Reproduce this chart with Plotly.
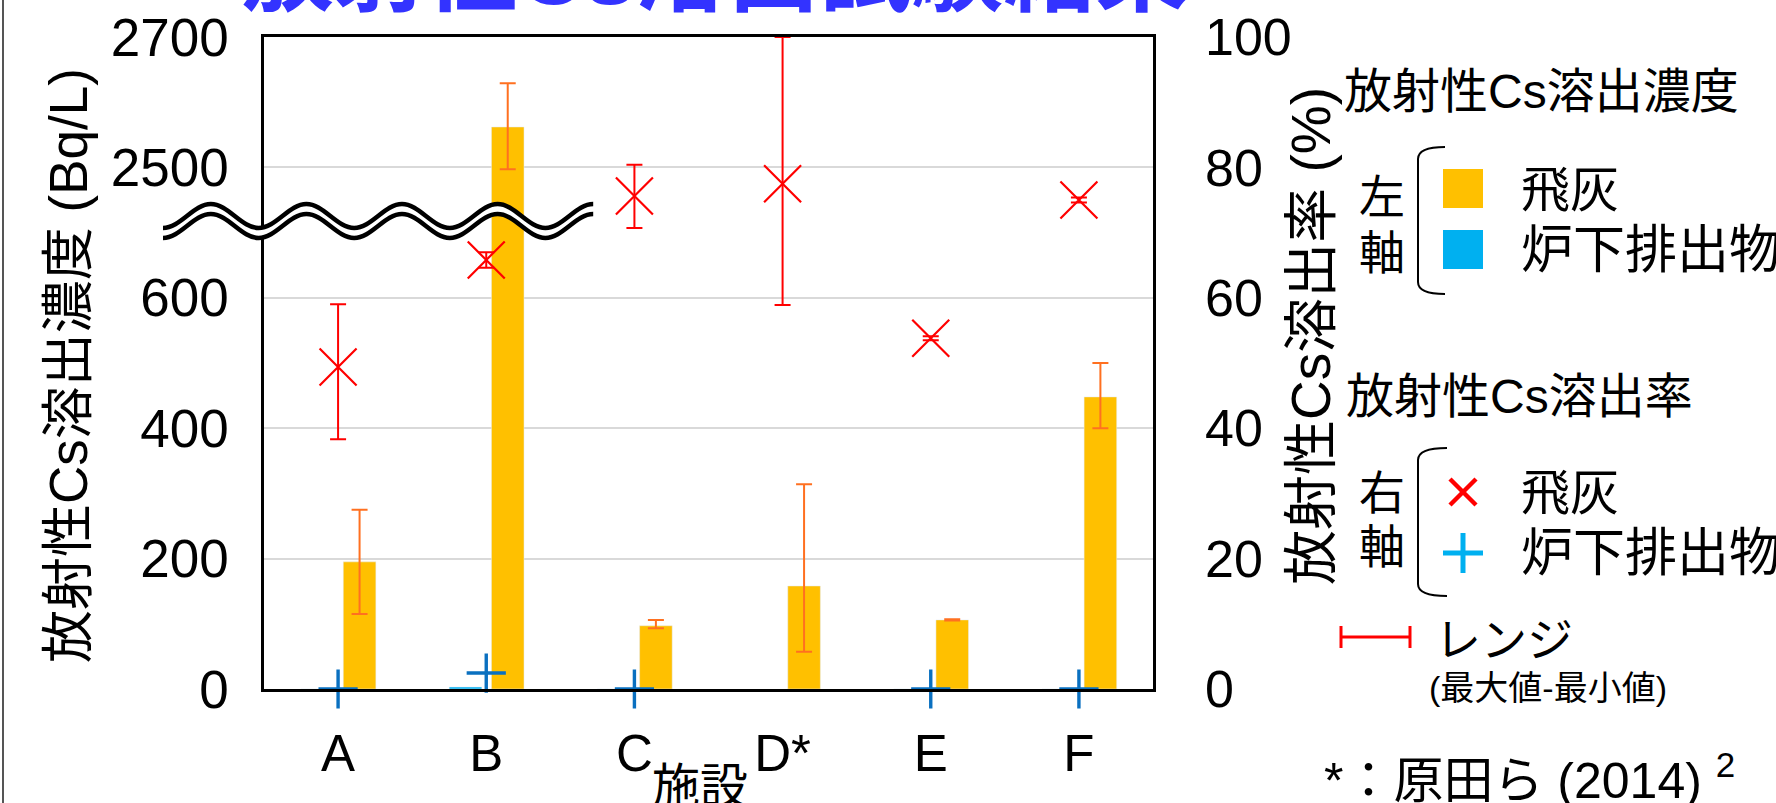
import plotly.graph_objects as go

# ---------------- data ----------------
categories = ["A", "B", "C", "D*", "E", "F"]
fly_ash_conc = [195, 2562, 97, 158, 106, 448]          # Bq/L (left axis)
fly_ash_conc_max = [275, 2629, 106, 314, 107, 500]
fly_ash_conc_min = [115, 2497, 93, 57, 105, 400]
bottom_ash_conc = [0, 3, 0, None, 0, 0]                # Bq/L (left axis)
fly_ash_rate = [49.4, 65.8, 75.6, 77.5, 53.8, 75.0]    # % (right axis)
fly_ash_rate_max = [59.0, 67.0, 80.4, 100.0, 54.1, 75.4]
fly_ash_rate_min = [38.3, 64.6, 70.7, 58.9, 53.5, 74.6]
bottom_ash_rate = [0, 2.45, 0, None, 0, 0]             # % (right axis)
left_tick_values = [0, 200, 400, 600, 2500, 2700]
right_tick_values = [0, 20, 40, 60, 80, 100]

# broken left axis: values above the break are shifted down
BREAK_LOW, BREAK_HIGH, STEP = 600, 2500, 200


def to_axis(v):
    if v is None:
        return None
    return v if v <= BREAK_LOW + STEP / 2 else v - (BREAK_HIGH - BREAK_LOW - STEP)


conc_pos = [to_axis(v) for v in fly_ash_conc]
conc_plus = [to_axis(hi) - to_axis(v) for v, hi in zip(fly_ash_conc, fly_ash_conc_max)]
conc_minus = [to_axis(v) - to_axis(lo) for v, lo in zip(fly_ash_conc, fly_ash_conc_min)]
rate_plus = [hi - v for v, hi in zip(fly_ash_rate, fly_ash_rate_max)]
rate_minus = [v - lo for v, lo in zip(fly_ash_rate, fly_ash_rate_min)]

# ---------------- geometry helpers (pixels -> paper) ----------------
W, H = 1776, 803
PL, PR, PT, PB = 264, 1153, 37, 689


def px(x):
    return (x - PL) / (PR - PL)


def py(y):
    return (PB - y) / (PB - PT)


LAT = "Liberation Sans, Arial, Noto Sans CJK JP, sans-serif"
CJK = "Liberation Sans, Noto Sans CJK JP, sans-serif"
ORANGE = "#FFC000"
LBLUE = "#00B0F0"
DBLUE = "#0A70C0"
RED = "#FF0000"
ERR_OR = "#FF7020"

fig = go.Figure()

fig.add_trace(go.Bar(
    x=categories, y=[to_axis(v) for v in bottom_ash_conc],
    marker_color=LBLUE, width=0.22, offset=-0.25, showlegend=False))
fig.add_trace(go.Bar(
    x=categories, y=conc_pos, marker_color=ORANGE, width=0.22, offset=0.035,
    error_y=dict(type="data", symmetric=False, array=conc_plus, arrayminus=conc_minus,
                 color=ERR_OR, thickness=2, width=8),
    showlegend=False))
fig.add_trace(go.Scatter(
    x=categories, y=fly_ash_rate, yaxis="y2", mode="markers",
    marker=dict(symbol="x-thin", size=37, line=dict(color=RED, width=2.2), color=RED),
    error_y=dict(type="data", symmetric=False, array=rate_plus, arrayminus=rate_minus,
                 color=RED, thickness=2, width=8),
    cliponaxis=False, showlegend=False))
fig.add_trace(go.Scatter(
    x=categories, y=bottom_ash_rate, yaxis="y2", mode="markers",
    marker=dict(symbol="cross-thin", size=28, line=dict(color=DBLUE, width=3.4), color=DBLUE),
    cliponaxis=False, showlegend=False))

# ---------------- decorations ----------------
shapes = []
annotations = []

# axis-break wave (two parallel wavy lines with white between)
x0, x1, half = 163.0, 593.0, 47.8
yc, amp, gap = 216.0, 12.0, 10.0
n = int(round((x1 - x0) / half))


def wave_pts(offset):
    pts = []
    for i in range(n + 1):
        y = yc + offset + (amp if i % 2 == 0 else -amp)
        pts.append((x0 + i * half, y))
    return pts


def bez(pts, start=True):
    s = ""
    if start:
        s += "M %.5f,%.5f " % (px(pts[0][0]), py(pts[0][1]))
    for (xa, ya), (xb, yb) in zip(pts[:-1], pts[1:]):
        dx = xb - xa
        s += "C %.5f,%.5f %.5f,%.5f %.5f,%.5f " % (
            px(xa + 0.36 * dx), py(ya), px(xa + 0.64 * dx), py(yb), px(xb), py(yb))
    return s


up = wave_pts(0)
lo = wave_pts(gap)
fill_path = bez(up) + "L %.5f,%.5f " % (px(lo[-1][0]), py(lo[-1][1])) + bez(lo[::-1], start=False) + "Z"
shapes.append(dict(type="path", xref="paper", yref="paper", path=fill_path,
                   fillcolor="white", line=dict(width=0), layer="above"))
for pts in (up, lo):
    shapes.append(dict(type="path", xref="paper", yref="paper", path=bez(pts),
                       line=dict(color="black", width=4.5), layer="above"))


def ann(text, x, y, size, xanchor="left", color="black", family=CJK, angle=0):
    annotations.append(dict(text=text, x=px(x), y=py(y), xref="paper", yref="paper",
                            xanchor=xanchor, yanchor="middle", showarrow=False,
                            textangle=angle, font=dict(size=size, color=color, family=family)))


def line(xa, ya, xb, yb, color="black", width=2):
    shapes.append(dict(type="line", xref="paper", yref="paper",
                       x0=px(xa), y0=py(ya), x1=px(xb), y1=py(yb),
                       line=dict(color=color, width=width)))


def rect(xa, ya, xb, yb, color):
    shapes.append(dict(type="rect", xref="paper", yref="paper",
                       x0=px(xa), y0=py(ya), x1=px(xb), y1=py(yb),
                       fillcolor=color, line=dict(width=0)))


def bracket(xa, xb, ya, yb):
    p = "M %.5f,%.5f Q %.5f,%.5f %.5f,%.5f L %.5f,%.5f Q %.5f,%.5f %.5f,%.5f" % (
        px(xb), py(ya), px(xa), py(ya), px(xa), py(ya + 12),
        px(xa), py(yb - 12), px(xa), py(yb), px(xb), py(yb))
    shapes.append(dict(type="path", xref="paper", yref="paper", path=p,
                       line=dict(color="black", width=2)))


# outer frame line at left
line(3, 0, 3, 803, color="#555555", width=2)

# title (partly cut off at the top)
ann("<b>放射性Cs溶出試験結果</b>", 715, -28, 92, xanchor="center", color="#3333FF")

# axis titles
ann("放射性Cs溶出濃度 (Bq/L)", 68, 366, 53, xanchor="center", angle=-90)
ann("放射性Cs溶出率 (%)", 1311, 336, 55, xanchor="center", angle=-90)
ann("施設", 700, 786, 48, xanchor="center")

# legend block
ann("放射性Cs溶出濃度", 1342, 92, 48)
ann("左", 1382, 197, 46, xanchor="center")
ann("軸", 1382, 253, 46, xanchor="center")
bracket(1418, 1445, 147, 294)
rect(1443, 169, 1483, 208, ORANGE)
rect(1443, 230, 1483, 269, LBLUE)
ann("飛灰", 1519, 190, 49)
ann("炉下排出物", 1519, 250, 52)

ann("放射性Cs溶出率", 1344, 396, 48)
ann("右", 1382, 493, 46, xanchor="center")
ann("軸", 1382, 547, 46, xanchor="center")
bracket(1418, 1447, 448, 596)
line(1450, 479, 1476, 505, RED, 4.5)
line(1450, 505, 1476, 479, RED, 4.5)
line(1443, 553, 1483, 553, LBLUE, 5)
line(1463, 533, 1463, 573, LBLUE, 5)
ann("飛灰", 1519, 493, 49)
ann("炉下排出物", 1519, 553, 52)

line(1340, 637, 1411, 637, RED, 3)
line(1341, 626, 1341, 648, RED, 3)
line(1410, 626, 1410, 648, RED, 3)
ann("レンジ", 1433, 640, 46)
ann("(最大値-最小値)", 1427, 688, 34)
ann("*：原田ら (2014) <sup>2</sup>", 1322, 777, 50)

fig.update_layout(
    width=W, height=H,
    margin=dict(l=PL, r=W - PR, t=PT, b=H - PB, pad=0, autoexpand=False),
    paper_bgcolor="white", plot_bgcolor="white",
    barmode="overlay", showlegend=False,
    xaxis=dict(type="category", range=[-0.5, 5.5], showline=True, linecolor="black",
               linewidth=2.5, mirror=True, showgrid=False, ticks="", automargin=False,
               ticklabelstandoff=18, tickfont=dict(size=51, family=LAT, color="black")),
    yaxis=dict(range=[0, 1000], tickvals=[to_axis(v) for v in left_tick_values],
               ticktext=[str(v) for v in left_tick_values], showgrid=True,
               gridcolor="#D9D9D9", gridwidth=2, showline=True, linecolor="black",
               linewidth=2.5, mirror=True, ticks="", ticklabelstandoff=22, automargin=False,
               zeroline=False, tickfont=dict(size=53, family=LAT, color="black")),
    yaxis2=dict(range=[0, 100], tickvals=right_tick_values, overlaying="y", side="right",
                showgrid=False, showline=False, ticks="", ticklabelstandoff=51,
                automargin=False, zeroline=False,
                tickfont=dict(size=52, family=LAT, color="black")),
    shapes=shapes, annotations=annotations,
)

fig.write_html(
    "out.html",
    config={"displayModeBar": False},
    post_script="document.body.style.margin='0px';document.body.style.padding='0px';"
                "document.body.style.overflow='hidden';",
)
